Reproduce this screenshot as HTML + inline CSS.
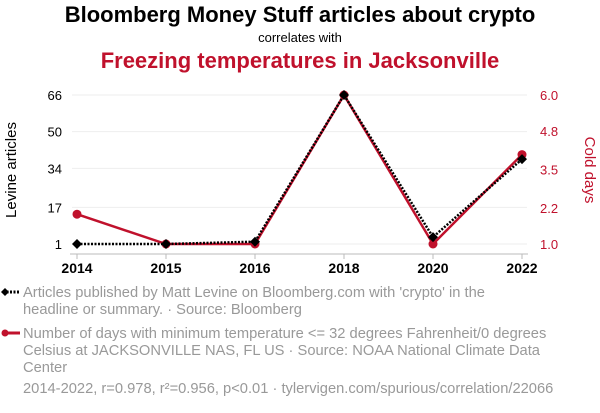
<!DOCTYPE html>
<html><head><meta charset="utf-8"><style>
body{margin:0;background:#fff;width:600px;height:408px;overflow:hidden;font-family:"Liberation Sans",sans-serif}
</style></head><body>
<svg width="600" height="408" xmlns="http://www.w3.org/2000/svg" font-family="Liberation Sans, sans-serif">
<text x="300" y="22" text-anchor="middle" font-size="22" font-weight="bold" fill="#000">Bloomberg Money Stuff articles about crypto</text>
<text x="300" y="42" text-anchor="middle" font-size="13" fill="#000">correlates with</text>
<text x="300" y="68" text-anchor="middle" font-size="22" font-weight="bold" fill="#c0112c">Freezing temperatures in Jacksonville</text>
<g id="grid"></g><g id="axes"></g><g id="series"></g>
<text transform="translate(16,170) rotate(-90)" text-anchor="middle" font-size="15" fill="#000">Levine articles</text>
<text transform="translate(585,170) rotate(90)" text-anchor="middle" font-size="15" fill="#c0112c">Cold days</text>
<g font-size="14.7" fill="#999">
<g>
<line x1="3" y1="292" x2="20" y2="292" stroke="#000" stroke-width="3" stroke-dasharray="2,1.5"/>
<path d="M1,292 L5,288 L9,292 L5,296Z" fill="#000"/>
<text x="23" y="297">Articles published by Matt Levine on Bloomberg.com with 'crypto' in the</text>
<text x="23" y="314">headline or summary. · Source: Bloomberg</text></g>
<g>
<line x1="3" y1="333" x2="20" y2="333" stroke="#c0112c" stroke-width="3"/>
<circle cx="5" cy="333" r="3.5" fill="#c0112c"/>
<text x="23" y="338">Number of days with minimum temperature &lt;= 32 degrees Fahrenheit/0 degrees</text>
<text x="23" y="355">Celsius at JACKSONVILLE NAS, FL US · Source: NOAA National Climate Data</text>
<text x="23" y="372">Center</text></g>
<text x="23" y="393">2014-2022, r=0.978, r²=0.956, p&lt;0.01 · tylervigen.com/spurious/correlation/22066</text>
</g>
</svg>
<script>
const years=["2014","2015","2016","2018","2020","2022"];
const articles=[1,1,2,66,4,38];
const coldDays=[2,1,1,6,1,4];
const leftTicks=[1,17,34,50,66];
const rightTicks=["1.0","2.2","3.5","4.8","6.0"];
const NS="http://www.w3.org/2000/svg";
const x=i=>77+i*89;
const yL=v=>244-(v-1)*(149/65);
const yR=v=>244-(v-1)*(149/5);
function mk(t,a,p){const e=document.createElementNS(NS,t);for(const k in a)e.setAttribute(k,a[k]);p.appendChild(e);return e;}
const grid=document.getElementById('grid'),axes=document.getElementById('axes'),ser=document.getElementById('series');
leftTicks.forEach((v,i)=>{
 const l=mk('line',{x1:72,x2:527,y1:yL(v),y2:yL(v),stroke:'#eee','stroke-width':1},grid);
 
 
 const t=mk('text',{x:62,y:yL(v)+5,'text-anchor':'end','font-size':13,fill:'#000'},axes);t.textContent=v;
 
 
 const rv=parseFloat(rightTicks[i]);
 const r=mk('text',{x:540,y:yR(rv)+5,'font-size':13,fill:'#c0112c'},axes);r.textContent=rightTicks[i];
 
 
});
const ax=mk('line',{x1:70,x2:528,y1:254,y2:254,stroke:'#bbb','stroke-width':1},axes);


years.forEach((yv,i)=>{
 mk('line',{x1:x(i),x2:x(i),y1:254,y2:259,stroke:'#bbb'},axes);
 const t=mk('text',{x:x(i),y:273,'text-anchor':'middle','font-size':14,'font-weight':'bold',fill:'#000'},axes);t.textContent=yv;
 
 
});
const rp=mk('polyline',{points:coldDays.map((v,i)=>x(i)+','+yR(v)).join(' '),fill:'none',stroke:'#c0112c','stroke-width':2.5},ser);


coldDays.forEach((v,i)=>{const c=mk('circle',{cx:x(i),cy:yR(v),r:4.5,fill:'#c0112c'},ser);
 
 });
const bp=mk('polyline',{points:articles.map((v,i)=>x(i)+','+yL(v)).join(' '),fill:'none',stroke:'#000','stroke-width':2.5,'stroke-dasharray':'2,1.5'},ser);


articles.forEach((v,i)=>{const X=x(i),Y=yL(v);
 const p=mk('path',{d:`M${X-5},${Y} L${X},${Y-5} L${X+5},${Y} L${X},${Y+5}Z`,fill:'#000'},ser);
 
 });
</script>
</body></html>
